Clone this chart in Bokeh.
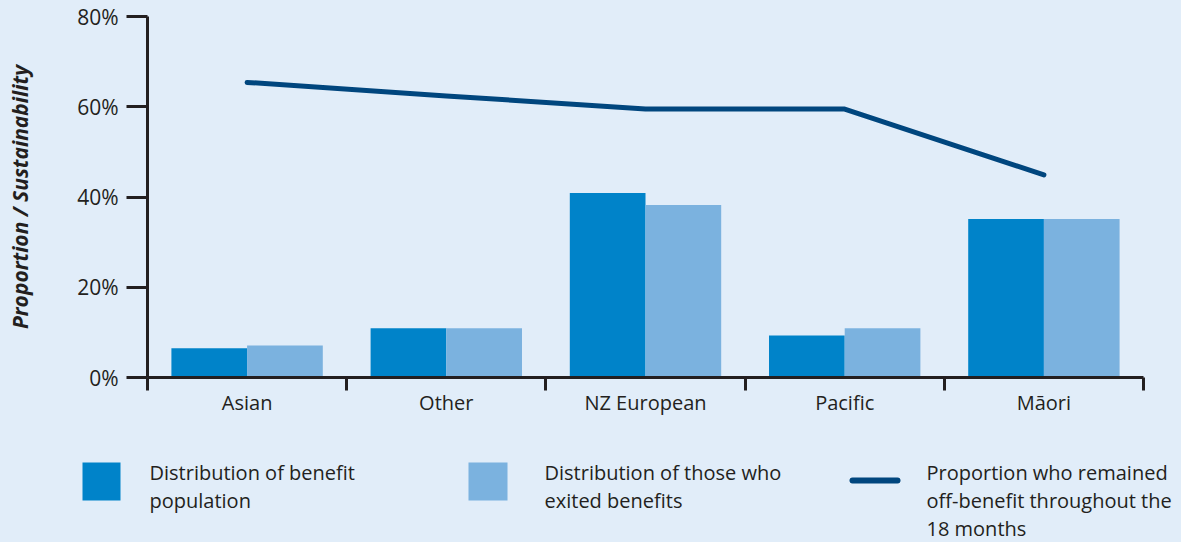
from bokeh.plotting import figure
from bokeh.models import (ColumnDataSource, Range1d, FixedTicker, LinearAxis,
                          PrintfTickFormatter)
from bokeh.transform import dodge
from bokeh.embed import file_html
from bokeh.resources import INLINE
from bokeh.core.properties import value

# ---- data ----
categories = ["Asian", "Other", "NZ European", "Pacific", "Māori"]
benefit_population = [6.5, 10.9, 40.9, 9.3, 35.1]
exited_benefits = [7.1, 10.9, 38.2, 10.9, 35.1]
remained_off = [65.4, 62.4, 59.5, 59.5, 44.9]
y_ticks = [0, 20, 40, 60, 80]
legend_labels = [
    ["Distribution of benefit", "population"],
    ["Distribution of those who", "exited benefits"],
    ["Proportion who remained", "off-benefit throughout the", "18 months"],
]

BG = "#e1edf9"
DARK = "#0083c9"
LIGHT = "#7bb2df"
NAVY = "#00467e"
TEXT = "#231f20"
FONT = "Open Sans"

centers = [i + 0.5 for i in range(len(categories))]
bounds = list(range(len(categories) + 1))
src = ColumnDataSource(dict(x=centers, cat=categories, a=benefit_population,
                            b=exited_benefits, c=remained_off))

W = 1181
H_MAIN = 425
H_LEG = 117

p = figure(width=W, height=H_MAIN, output_backend="svg", toolbar_location=None,
           x_range=Range1d(0, len(categories)), y_range=Range1d(0, 80),
           x_axis_type=None, y_axis_type=None,
           min_border_left=147, min_border_right=38, min_border_top=16,
           min_border_bottom=48)
p.background_fill_color = BG
p.border_fill_color = BG
p.outline_line_color = None

yaxis = LinearAxis(ticker=FixedTicker(ticks=y_ticks, minor_ticks=[]),
                   formatter=PrintfTickFormatter(format="%d%%"))
yaxis.axis_label = "Proportion / Sustainability"
yaxis.axis_label_text_font = FONT
yaxis.axis_label_text_font_style = "bold italic"
yaxis.axis_label_text_font_size = "21px"
yaxis.axis_label_text_color = TEXT
yaxis.axis_label_standoff = 40
yaxis.axis_line_width = 3
yaxis.axis_line_color = TEXT
yaxis.major_tick_out = 21
yaxis.major_tick_in = 0
yaxis.major_tick_line_width = 3
yaxis.major_tick_line_color = TEXT
yaxis.major_label_standoff = 8
yaxis.major_label_text_font = FONT
yaxis.major_label_text_font_size = "21px"
yaxis.major_label_text_color = TEXT
p.add_layout(yaxis, "left")

xaxis = LinearAxis(ticker=FixedTicker(ticks=centers, minor_ticks=bounds),
                   major_label_overrides={c: n for c, n in zip(centers, categories)})
xaxis.axis_line_width = 3
xaxis.axis_line_color = TEXT
xaxis.major_tick_line_color = None
xaxis.major_tick_out = 0
xaxis.major_tick_in = 0
xaxis.minor_tick_out = 13
xaxis.minor_tick_in = 0
xaxis.minor_tick_line_width = 3
xaxis.minor_tick_line_color = TEXT
xaxis.major_label_standoff = -2
xaxis.major_label_text_font = FONT
xaxis.major_label_text_font_size = "20px"
xaxis.major_label_text_color = TEXT
p.add_layout(xaxis, "below")

p.ygrid.grid_line_color = "#a7a7a7"
p.ygrid.grid_line_width = 2
p.xgrid.visible = False

p.vbar(x=dodge("x", -0.19, range=p.x_range), top="a", width=0.38, source=src,
       fill_color=DARK, line_color=None)
p.vbar(x=dodge("x", 0.19, range=p.x_range), top="b", width=0.38, source=src,
       fill_color=LIGHT, line_color=None)
p.line(x="x", y="c", source=src, line_color=NAVY, line_width=5,
       line_cap="round", line_join="round")

# ---- legend (pixel-space figure) ----
lg = figure(width=W, height=H_LEG, output_backend="svg", toolbar_location=None,
            x_range=Range1d(0, W), y_range=Range1d(H_LEG, 0),
            x_axis_type=None, y_axis_type=None, min_border=0)
lg.background_fill_color = BG
lg.border_fill_color = BG
lg.outline_line_color = None
lg.grid.visible = False

lg.quad(left=[82, 468], right=[120, 507], top=[37, 37], bottom=[75, 75],
        fill_color=[DARK, LIGHT], line_color=None)
lg.segment(x0=[852], y0=[55], x1=[897], y1=[55], line_color=NAVY, line_width=6,
           line_cap="round")
text_x = [149, 544, 926]
tx, ty, tt = [], [], []
for x0, lines in zip(text_x, legend_labels):
    for j, t in enumerate(lines):
        tx.append(x0)
        ty.append(47 + 28 * j)
        tt.append(t)
lg.text(x=tx, y=ty, text=tt, text_font=value(FONT), text_font_size="20px",
        text_color=TEXT, text_baseline="middle", text_align="left")

html = file_html([p, lg], INLINE)
html = html.replace("<head>", "<head><style>body{background:%s;}</style>" % BG, 1)
open("out.html", "w").write(html)
